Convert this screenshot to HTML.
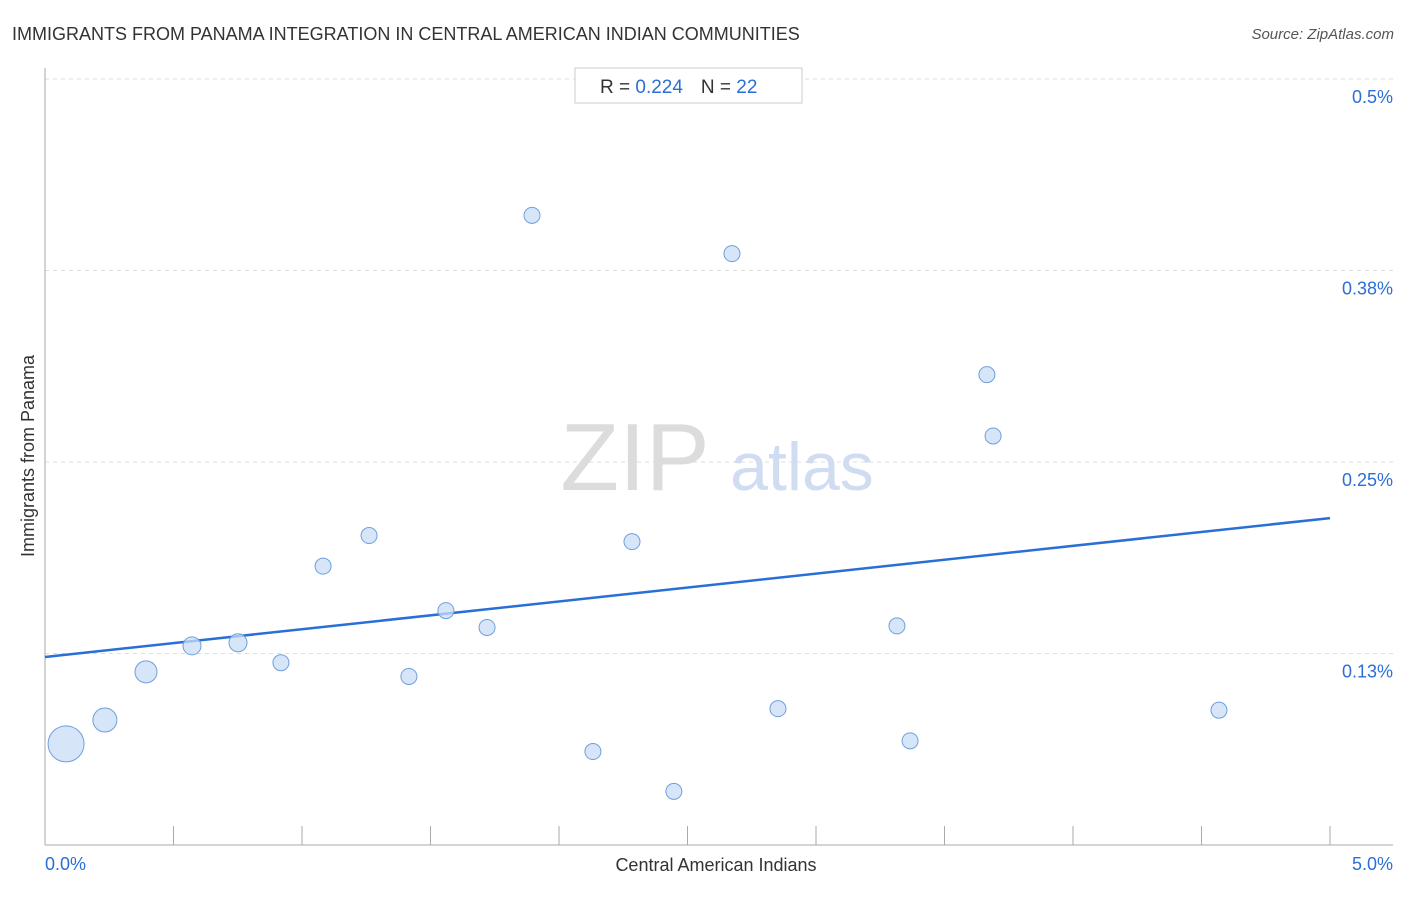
<!DOCTYPE html>
<html><head><meta charset="utf-8"><style>
body{margin:0;background:#fff;font-family:"Liberation Sans",sans-serif;}
svg text{font-family:"Liberation Sans",sans-serif;}
</style></head><body>
<svg id="chart" width="1406" height="892" viewBox="0 0 1406 892" xmlns="http://www.w3.org/2000/svg">
<text x="12" y="40" font-size="18" fill="#333">IMMIGRANTS FROM PANAMA INTEGRATION IN CENTRAL AMERICAN INDIAN COMMUNITIES</text>
<text x="1394" y="39" font-size="15" fill="#555" font-style="italic" text-anchor="end">Source: ZipAtlas.com</text>
<g>
<text x="635" y="490" font-size="96" font-family="Liberation Serif" fill="#dcdcdc" text-anchor="middle">ZIP</text>
<text x="802" y="490" font-size="68" fill="#cfdcf2" text-anchor="middle">atlas</text>
</g>
<g id="grid"></g>
<g id="axes"></g>
<line id="trend" stroke="#2a6fd6" stroke-width="2.5"></line>
<g id="points"></g>
<g>
<rect x="575" y="68" width="227" height="35" fill="#fff" stroke="#ccc"/>
<text x="600" y="93" font-size="19" fill="#333">R = <tspan fill="#2a6fd6">0.224</tspan><tspan dx="18">N = </tspan><tspan fill="#2a6fd6">22</tspan></text>
</g>
<text x="716" y="871" font-size="18" fill="#333" text-anchor="middle">Central American Indians</text>
<text x="34" y="456" font-size="18" fill="#333" text-anchor="middle" transform="rotate(-90 34 456)">Immigrants from Panama</text>
</svg>
<script>
const xVals=[0.082,0.233,0.393,0.572,0.751,0.918,1.082,1.261,1.416,1.560,1.720,1.895,2.132,2.284,2.447,2.673,2.852,3.315,3.366,3.665,3.689,4.568];
const yVals=[0.066,0.0816,0.113,0.130,0.132,0.119,0.182,0.202,0.110,0.153,0.142,0.411,0.061,0.198,0.035,0.386,0.089,0.143,0.068,0.307,0.267,0.088];
const sizes=[18,12,11,9,9,8,8,8,8,8,8,8,8,8,8,8,8,8,8,8,8,8];
const yTicks=[0.5,0.375,0.25,0.125];
const yTickLabels=["0.5%","0.38%","0.25%","0.13%"];
const xTicks=[0,0.5,1,1.5,2,2.5,3,3.5,4,4.5,5];
const trend=[0.1227,0.2134];
const NS="http://www.w3.org/2000/svg";
const X=v=>45+v*257;
const Y=v=>845-v*1532;
const grid=document.getElementById('grid'),axes=document.getElementById('axes'),pts=document.getElementById('points');
function mk(tag,attrs,parent){const e=document.createElementNS(NS,tag);for(const k in attrs)e.setAttribute(k,attrs[k]);parent.appendChild(e);return e;}
yTicks.forEach((t,i)=>{
 const l=mk('line',{x1:45,x2:1393,y1:Y(t),y2:Y(t),stroke:'#ddd','stroke-dasharray':'4,4'},grid);
 
 
 const tx=mk('text',{x:1393,y:Y(t)+24,'font-size':18,fill:'#2a6fd6','text-anchor':'end'},grid);
 tx.textContent=yTickLabels[i];
 
 
});
const ax=mk('line',{x1:45,x2:1393,y1:845,y2:845,stroke:'#aaa'},axes);


const ay=mk('line',{x1:45,x2:45,y1:68,y2:845,stroke:'#aaa'},axes);


xTicks.forEach(t=>{
 const l=mk('line',{x1:X(t),x2:X(t),y1:826,y2:845,stroke:'#aaa'},axes);
 
 
});
const x0=mk('text',{x:45,y:870,'font-size':18,fill:'#2a6fd6'},axes);x0.textContent='0.0%';


const x1=mk('text',{x:1393,y:870,'font-size':18,fill:'#2a6fd6','text-anchor':'end'},axes);x1.textContent='5.0%';


const tr=document.getElementById('trend');
tr.setAttribute('x1',X(0));tr.setAttribute('y1',Y(trend[0]));tr.setAttribute('x2',X(5));tr.setAttribute('y2',Y(trend[1]));
xVals.forEach((v,i)=>{
 const c=mk('circle',{cx:X(v),cy:Y(yVals[i]),r:sizes[i],fill:'#c9dcf6','fill-opacity':0.75,stroke:'#6f9fdc','stroke-width':1},pts);
 
 
});
</script>
</body></html>
